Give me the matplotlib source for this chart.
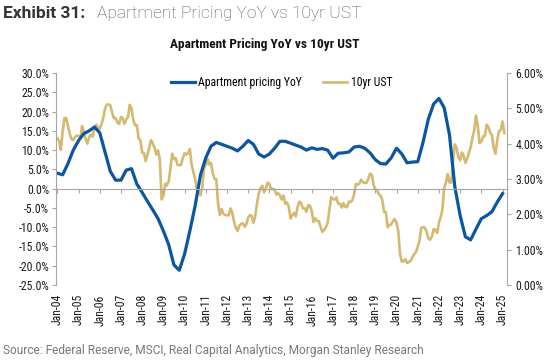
import pandas as pd
import matplotlib
matplotlib.use("Agg")
import matplotlib.pyplot as plt
from matplotlib import font_manager
from matplotlib.ticker import FuncFormatter, MultipleLocator
import matplotlib.dates as mdates

apt_yoy = [
    4.0, 3.6, 6.5, 10.0,
    12.5, 14.3, 15.0, 16.0,
    14.5, 9.5, 4.5, 2.2,
    2.2, 4.8, 5.2, 1.2,
    -1.0, -3.3, -5.5, -7.8,
    -11.0, -14.5, -19.8, -21.2,
    -17.0, -11.0, -4.5, 3.5,
    8.0, 11.0, 12.0, 11.5,
    11.0, 10.5, 9.8, 11.0,
    12.5, 11.5, 9.0, 8.2,
    9.0, 10.5, 12.3, 12.3,
    11.8, 11.3, 10.8, 10.0,
    10.6, 10.2, 10.4, 10.0,
    7.9, 9.2, 9.3, 9.5,
    10.8, 11.0, 10.5, 9.3,
    7.5, 6.5, 6.4, 8.0,
    10.5, 9.0, 6.7, 6.9,
    7.0, 12.0, 18.0, 22.0,
    23.4, 21.0, 14.0, 0.5,
    -7.0, -12.5, -13.3, -10.5,
    -7.8, -7.0, -6.0, -3.5,
    -1.3,
]
apt_dates = pd.date_range("2004-01-01", periods=len(apt_yoy), freq="3MS")

# 10yr UST yield (%), monthly, Jan-04 .. Feb-25
ust_10yr = [
    4.15, 4.08, 3.83, 4.35, 4.72, 4.73, 4.50, 4.28, 4.13, 4.10, 4.19, 4.23,
    4.22, 4.17, 4.50, 4.34, 4.14, 4.00, 4.18, 4.26, 4.20, 4.46, 4.54, 4.47,
    4.42, 4.57, 4.72, 4.99, 5.11, 5.11, 5.09, 4.88, 4.72, 4.73, 4.60, 4.56,
    4.76, 4.72, 4.56, 4.69, 4.75, 5.10, 5.00, 4.67, 4.52, 4.53, 4.15, 4.10,
    3.74, 3.74, 3.51, 3.68, 3.88, 4.10, 4.01, 3.89, 3.69, 3.81, 3.53, 2.42,
    2.52, 2.87, 2.82, 2.93, 3.29, 3.72, 3.56, 3.59, 3.40, 3.39, 3.40, 3.59,
    3.73, 3.69, 3.73, 3.85, 3.42, 3.20, 3.01, 2.70, 2.65, 2.54, 2.76, 3.29,
    3.39, 3.58, 3.41, 3.46, 3.17, 3.00, 3.00, 2.30, 1.98, 2.15, 2.01, 1.98,
    1.97, 1.97, 2.17, 2.05, 1.80, 1.62, 1.53, 1.68, 1.72, 1.75, 1.65, 1.72,
    1.91, 1.98, 1.96, 1.76, 1.93, 2.30, 2.58, 2.74, 2.81, 2.62, 2.72, 2.90,
    2.86, 2.71, 2.72, 2.71, 2.56, 2.60, 2.54, 2.42, 2.53, 2.30, 2.33, 2.21,
    1.88, 1.98, 2.04, 1.94, 2.20, 2.36, 2.32, 2.17, 2.17, 2.07, 2.26, 2.24,
    2.09, 1.78, 1.89, 1.81, 1.81, 1.64, 1.50, 1.56, 1.63, 1.76, 2.14, 2.49,
    2.43, 2.42, 2.48, 2.30, 2.30, 2.19, 2.32, 2.21, 2.20, 2.36, 2.35, 2.40,
    2.58, 2.86, 2.84, 2.87, 2.98, 2.91, 2.89, 2.89, 3.00, 3.15, 3.12, 2.83,
    2.71, 2.68, 2.57, 2.53, 2.40, 2.07, 2.06, 1.63, 1.70, 1.71, 1.81, 1.86,
    1.76, 1.50, 0.87, 0.66, 0.67, 0.73, 0.62, 0.65, 0.68, 0.79, 0.87, 0.93,
    1.08, 1.26, 1.61, 1.64, 1.62, 1.52, 1.32, 1.28, 1.37, 1.58, 1.56, 1.47,
    1.76, 1.93, 2.13, 2.75, 2.90, 3.14, 2.90, 2.90, 3.52, 3.98, 3.89, 3.62,
    3.53, 3.75, 3.66, 3.46, 3.57, 3.75, 3.90, 4.17, 4.38, 4.80, 4.50, 4.02,
    4.06, 4.21, 4.21, 4.54, 4.48, 4.31, 4.25, 3.87, 3.72, 4.10, 4.36, 4.39,
    4.63, 4.30,
]
ust_dates = pd.date_range("2004-01-01", periods=len(ust_10yr), freq="MS")

tick_years = list(range(2004, 2026))

BLUE = "#0B56A4"
GOLD = "#D3BA70"
GREY = "#A6A6A6"

# pick a condensed face if the box has one
fonts = font_manager.fontManager.ttflist
names = {f.name for f in fonts}
narrow_name = None
for n in ["Roboto Condensed", "Liberation Sans Narrow", "Arial Narrow"]:
    if n in names:
        narrow_name = n
        break
if narrow_name:
    def narrow(size, weight="normal"):
        return font_manager.FontProperties(family=narrow_name, size=size, weight=weight)
elif any(f.name == "DejaVu Sans" and f.stretch == "condensed" for f in fonts):
    def narrow(size, weight="normal"):
        return font_manager.FontProperties(family="DejaVu Sans", stretch="condensed",
                                           size=size, weight=weight)
else:
    def narrow(size, weight="normal"):
        return font_manager.FontProperties(family="Roboto", size=size * 0.9, weight=weight)

fig = plt.figure(figsize=(5.5, 3.62), dpi=100)
ax = fig.add_axes([0.102, 0.213, 0.82, 0.585])
ax2 = ax.twinx()
ax.set_zorder(ax2.get_zorder() + 1)
ax.patch.set_visible(False)

ln2, = ax2.plot(ust_dates, ust_10yr, color=GOLD, lw=1.9, label="10yr UST")
ln1, = ax.plot(apt_dates, apt_yoy, color=BLUE, lw=2.3, label="Apartment pricing YoY")

ax.set_ylim(-25, 30)
ax2.set_ylim(0, 6)
ax.yaxis.set_major_locator(MultipleLocator(5))
ax2.yaxis.set_major_locator(MultipleLocator(1))
ax.yaxis.set_major_formatter(FuncFormatter(lambda v, p: f"{v:.1f}%"))
ax2.yaxis.set_major_formatter(FuncFormatter(lambda v, p: f"{v:.2f}%"))

ax.set_xlim(pd.Timestamp("2003-12-10"), pd.Timestamp("2025-03-20"))
ax.set_xticks([pd.Timestamp(f"{y}-01-01") for y in tick_years])
ax.xaxis.set_major_formatter(mdates.DateFormatter("Jan-%y"))

for a in (ax, ax2):
    for s in a.spines.values():
        s.set_visible(False)
ax.spines["left"].set_visible(True)
ax.spines["left"].set_color(GREY)
ax2.spines["right"].set_visible(True)
ax2.spines["right"].set_color(GREY)
ax.spines["bottom"].set_visible(True)
ax.spines["bottom"].set_color(GREY)
ax.spines["bottom"].set_position(("data", 0))

ax.tick_params(axis="x", length=3, color=GREY, pad=73, rotation=90)
ax.tick_params(axis="y", length=3, color=GREY, pad=2)
ax2.tick_params(axis="y", length=3, color=GREY, pad=3)
tick_font = narrow(8.5)
for lbl in ax.get_xticklabels() + ax.get_yticklabels() + ax2.get_yticklabels():
    lbl.set_fontproperties(tick_font)
    lbl.set_color("#1a1a1a")

leg = ax.legend(handles=[ln1, ln2], loc="center", bbox_to_anchor=(0.5, 0.955),
                ncol=2, frameon=False, handlelength=2.0, columnspacing=1.8,
                handletextpad=0.3, prop=narrow(8.5))

fig.text(0.006, 0.962, "Exhibit 31:", fontsize=12.5, fontweight="bold",
         color="#333333", family=["Roboto", "DejaVu Sans"], va="center")
fig.text(0.176, 0.962, "Apartment Pricing YoY vs 10yr UST", fontsize=12.5,
         fontweight="light", color="#555555", family=["Roboto", "DejaVu Sans"],
         va="center")
fig.text(0.482, 0.878, "Apartment Pricing YoY vs 10yr UST", color="#111111",
         fontproperties=narrow(9.6, "bold"), ha="center", va="center")
fig.text(0.006, 0.033, "Source: Federal Reserve, MSCI, Real Capital Analytics, Morgan Stanley Research",
         fontsize=8.6, color="#777777", family=["Roboto", "DejaVu Sans"], va="center")

fig.savefig("out.png", dpi=100)
